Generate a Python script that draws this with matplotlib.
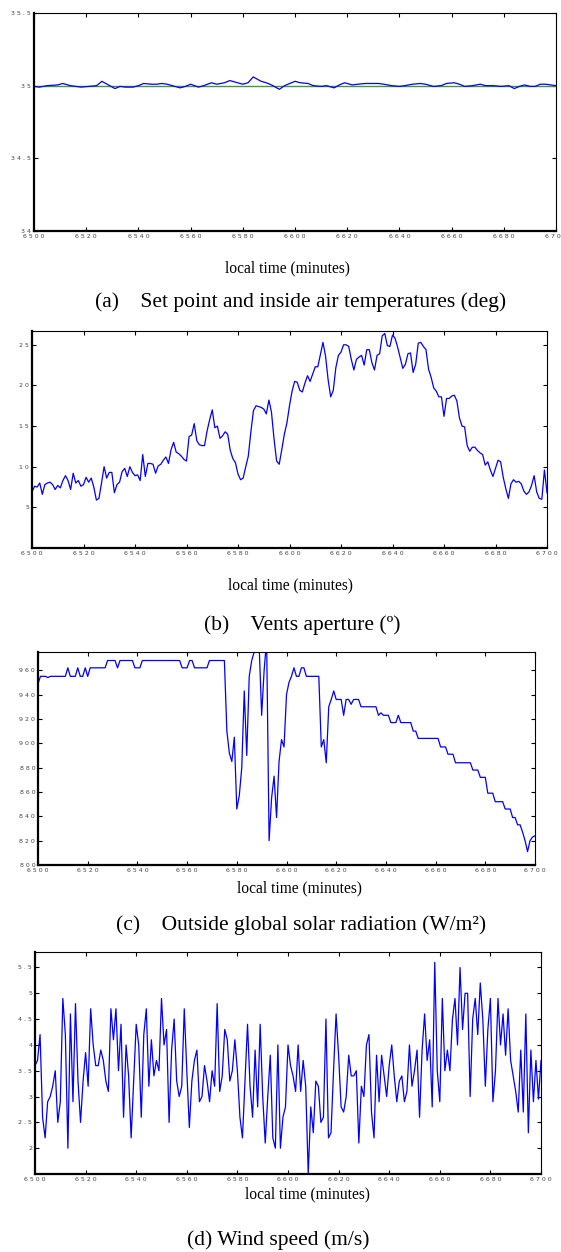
import numpy as np
import matplotlib
matplotlib.use('Agg')
import matplotlib.pyplot as plt
from matplotlib.ticker import FuncFormatter

# (a) inside air temperature vs set point
temp_t = [6500, 6502, 6505, 6509, 6511, 6514, 6518, 6521, 6524, 6526, 6529, 6531, 6533, 6535, 6538,
          6540, 6542, 6545, 6547, 6549, 6551, 6553, 6556, 6558, 6560, 6563, 6565, 6568, 6570, 6573,
          6575, 6578, 6580, 6582, 6584, 6587, 6589, 6591, 6594, 6596, 6598, 6600, 6602, 6605, 6607,
          6610, 6612, 6615, 6617, 6619, 6622, 6624, 6627, 6629, 6632, 6634, 6637, 6640, 6642, 6645,
          6648, 6650, 6653, 6656, 6658, 6661, 6663, 6665, 6668, 6671, 6673, 6676, 6679, 6682, 6684,
          6686, 6688, 6690, 6692, 6694, 6696, 6698, 6700]
temp_in = [34.995, 34.99, 35.0, 35.005, 35.015, 35.0, 34.99, 34.995, 35.0, 35.03, 35.0, 34.98, 34.995, 34.99, 34.99,
           35.0, 35.015, 35.01, 35.01, 35.015, 35.01, 35.0, 34.985, 34.995, 35.01, 34.99, 35.0, 35.02, 35.01, 35.02,
           35.035, 35.02, 35.01, 35.02, 35.06, 35.03, 35.02, 35.005, 34.975, 35.0, 35.015, 35.03, 35.02, 35.015, 35.0,
           34.995, 35.0, 34.985, 35.005, 35.02, 35.005, 35.01, 35.015, 35.015, 35.015, 35.01, 35.0, 34.995, 35.0, 35.01,
           35.015, 35.01, 34.995, 35.0, 35.015, 35.02, 35.01, 34.995, 35.0, 35.01, 35.0, 35.0, 34.995, 35.0, 34.98,
           34.995, 35.005, 34.995, 34.995, 35.01, 35.01, 35.005, 35.0]
set_point = [35.0, 35.0]
set_t = [6500, 6700]

# (b) vents aperture, one value per minute from 6500
vents = [6.9, 7.6, 7.5, 8.0, 6.6, 7.8, 8.0, 8.1, 7.8, 7.2, 7.7, 7.4, 8.3, 8.9, 8.3, 7.2, 9.2, 8.0, 8.3, 7.6,
         7.8, 8.7, 8.1, 8.6, 7.5, 5.9, 6.1, 8.0, 10.0, 8.6, 9.3, 9.3, 6.8, 7.8, 8.1, 9.4, 9.8, 8.8, 10.0, 9.3,
         8.9, 9.0, 8.3, 11.5, 8.8, 10.4, 10.4, 10.3, 9.2, 10.1, 10.3, 10.8, 11.2, 10.4, 12.1, 13.0, 11.8, 11.6, 11.3, 10.9,
         10.7, 13.7, 13.9, 15.3, 13.2, 12.7, 12.6, 12.6, 14.4, 15.8, 17.0, 14.8, 15.0, 13.5, 13.8, 14.3, 14.0, 12.0, 11.0, 10.5,
         9.1, 8.4, 8.6, 10.0, 11.3, 14.3, 16.9, 17.5, 17.4, 17.3, 17.1, 16.5, 18.2, 16.7, 13.4, 10.7, 10.3, 12.1, 14.0, 15.4,
         17.5, 19.3, 20.5, 20.4, 19.4, 19.2, 20.3, 21.2, 20.5, 21.4, 22.3, 22.3, 23.8, 25.3, 23.6, 20.7, 18.6, 19.4, 22.2, 23.7,
         24.1, 25.0, 25.0, 24.8, 23.2, 21.9, 23.2, 23.5, 23.7, 22.5, 24.4, 24.4, 22.8, 21.9, 23.7, 23.9, 26.1, 26.4, 24.9, 24.8,
         26.2, 25.8, 24.7, 23.4, 22.1, 22.6, 23.9, 24.0, 21.6, 22.6, 25.2, 25.3, 24.8, 24.4, 22.0, 21.0, 19.7, 19.3, 18.6, 18.6,
         16.2, 18.4, 18.4, 18.7, 18.8, 18.1, 16.0, 15.0, 14.9, 12.6, 11.9, 12.4, 12.4, 12.0, 11.7, 11.5, 10.2, 10.6, 9.6, 8.8,
         9.8, 10.8, 10.6, 8.7, 7.3, 6.1, 7.9, 8.4, 8.1, 8.2, 7.9, 7.0, 6.6, 6.9, 7.7, 8.9, 6.9, 6.1, 6.0, 9.6,
         6.8]

# (c) outside global solar radiation, one value per minute from 6500
radiation = ([949] + [955] * 3 + [954] + [955] * 7 + [962] + [955] * 3 + [962] + [955] * 2 + [962, 955]
             + [962] * 7 + [968] * 4 + [962] + [968] * 6 + [962] * 3 + [968] * 16 + [962] * 3 + [968] * 2
             + [962] * 6 + [968] * 7
             + [910, 892, 885, 905, 846, 857, 880, 943, 890, 955, 968, 975, 980, 980, 923, 960, 985,
                820, 855, 873, 839, 885, 903, 897, 940, 950, 955, 962, 955, 955, 962, 962, 955]
             + [955] * 5 + [897, 903, 884, 930, 936, 943, 936, 936, 936, 923, 936, 936, 932, 936, 936, 936]
             + [930] * 7 + [923, 925, 923, 923, 923, 917, 917, 917, 923] + [917] * 5 + [910, 910]
             + [904] * 9 + [897] * 3 + [891] * 3 + [884] * 7 + [878] * 3 + [872] * 3 + [859] * 3
             + [852] * 4 + [846] * 3 + [839] * 2 + [833] * 2 + [827, 820, 811, 820, 823, 824])

# (d) wind speed, one value per minute from 6500
wind = [3.6, 3.7, 4.2, 2.6, 2.2, 2.9, 3.0, 3.2, 3.5, 2.5, 2.9, 4.9, 4.2, 2.0, 4.6, 2.9, 4.8, 3.3, 2.5, 3.3,
        3.85, 3.2, 4.7, 4.0, 3.6, 3.6, 3.9, 3.7, 3.3, 3.1, 4.7, 4.1, 4.7, 3.5, 4.4, 2.6, 4.0, 3.4, 2.2, 3.3,
        4.4, 4.0, 2.6, 4.2, 4.7, 3.2, 4.1, 3.4, 3.7, 3.5, 4.9, 4.0, 4.3, 2.5, 3.9, 4.5, 3.3, 3.0, 3.2, 4.7,
        3.5, 2.4, 3.3, 3.7, 3.9, 2.9, 3.0, 3.6, 3.3, 2.9, 3.5, 3.2, 4.8, 3.1, 3.4, 4.3, 4.1, 3.3, 3.5, 4.1,
        3.5, 2.6, 2.2, 3.3, 4.4, 3.2, 2.6, 3.9, 2.8, 4.4, 3.0, 2.1, 3.0, 3.8, 2.2, 2.0, 4.0, 2.0, 2.6, 2.8,
        4.0, 3.6, 3.4, 3.1, 4.0, 3.1, 3.7, 3.2, 1.5, 2.8, 2.3, 3.3, 3.2, 2.5, 2.6, 4.5, 2.2, 2.3, 3.5, 4.6,
        3.8, 2.8, 2.7, 3.0, 3.8, 3.4, 3.4, 3.5, 2.1, 3.2, 3.0, 4.0, 4.2, 2.7, 2.2, 3.8, 2.9, 3.8, 3.4, 3.0,
        3.6, 4.0, 3.4, 2.9, 3.3, 3.4, 2.9, 3.1, 4.0, 3.2, 3.5, 3.9, 2.6, 3.9, 4.6, 3.7, 4.1, 2.8, 5.6, 3.5,
        2.9, 4.9, 3.5, 3.9, 3.5, 4.5, 4.9, 4.0, 5.5, 4.3, 5.0, 5.0, 3.0, 4.5, 4.9, 4.2, 5.2, 4.5, 3.2, 4.3,
        4.9, 2.9, 3.5, 4.9, 4.0, 4.6, 3.8, 4.7, 3.7, 3.4, 3.1, 2.7, 3.9, 2.7, 4.6, 2.3, 3.9, 2.9, 3.7, 2.95,
        3.7]

xticks = [6500, 6520, 6540, 6560, 6580, 6600, 6620, 6640, 6660, 6680, 6700]

W, H = 561, 1252
fig = plt.figure(figsize=(W / 100, H / 100), dpi=100)


def box(l, t, r, b):
    return [l / W, 1 - b / H, (r - l) / W, (b - t) / H]


def spaced(v, pos):
    s = ('%g' % v)
    return ' '.join(s)


def style(ax, yticks):
    ax.set_xlim(6500, 6700)
    ax.set_xticks(xticks)
    ax.set_yticks(yticks)
    ax.xaxis.set_major_formatter(FuncFormatter(spaced))
    ax.yaxis.set_major_formatter(FuncFormatter(spaced))
    ax.tick_params(direction='in', top=True, right=True, length=3, width=0.8,
                   labelsize=4.5, labelcolor='#444444', pad=2)
    for side in ['top', 'right']:
        ax.spines[side].set_linewidth(0.8)
    for side in ['left', 'bottom']:
        ax.spines[side].set_linewidth(1.6)


def label(x, y, s, size, **kw):
    fig.text(x / W, 1 - y / H, s, ha='center', va='center', fontsize=size,
             family='Liberation Serif', **kw)


blue = '#0000ff'

ax1 = fig.add_axes(box(34, 13, 556, 231))
ax1.plot(set_t, set_point, color='#3c9c3c', lw=1.0)
ax1.plot(temp_t, temp_in, color=blue, lw=0.9)
ax1.set_ylim(34, 35.5)
style(ax1, [34, 34.5, 35, 35.5])
label(287, 268, 'local time (minutes)', 11.2)
label(301, 302, '(a)    Set point and inside air temperatures (deg)', 15.5)

mins = np.arange(6500, 6500 + len(vents))
ax2 = fig.add_axes(box(32, 331, 547, 548))
ax2.plot(mins, vents, color=blue, lw=0.9)
ax2.set_ylim(0, 26.7)
style(ax2, [5, 10, 15, 20, 25])
label(290, 585, 'local time (minutes)', 11.2)
label(302, 625, '(b)    Vents aperture (º)', 15.5)

mins = np.arange(6500, 6500 + len(radiation))
ax3 = fig.add_axes(box(38, 652, 535, 865))
ax3.plot(mins, radiation, color=blue, lw=0.9)
ax3.set_ylim(800, 975)
style(ax3, [800, 820, 840, 860, 880, 900, 920, 940, 960])
label(299, 888, 'local time (minutes)', 11.2)
label(301, 925, '(c)    Outside global solar radiation (W/m²)', 15.5)

mins = np.arange(6500, 6500 + len(wind))
ax4 = fig.add_axes(box(35, 952, 541, 1174))
ax4.plot(mins, wind, color=blue, lw=0.9)
ax4.set_ylim(1.5, 5.8)
style(ax4, [2, 2.5, 3, 3.5, 4, 4.5, 5, 5.5])
label(307, 1194, 'local time (minutes)', 11.2)
label(278, 1240, '(d) Wind speed (m/s)', 15.5)

fig.savefig('out.png', dpi=100)
